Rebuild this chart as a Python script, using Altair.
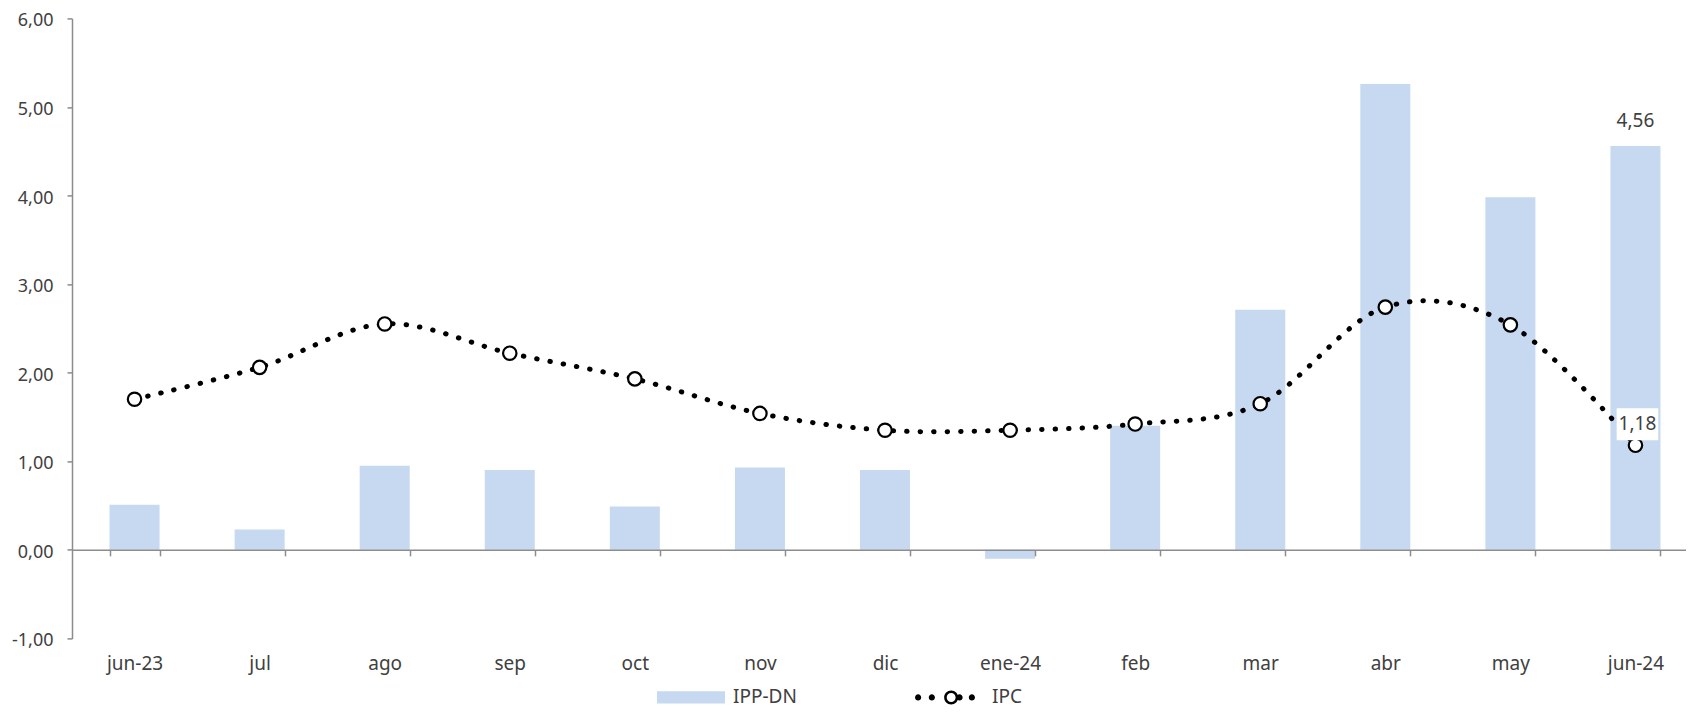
import altair as alt
import pandas as pd

months = ["jun-23", "jul", "ago", "sep", "oct", "nov", "dic", "ene-24",
          "feb", "mar", "abr", "may", "jun-24"]
ipp_dn = [0.51, 0.23, 0.95, 0.90, 0.49, 0.93, 0.90, -0.10, 1.40, 2.71, 5.26, 3.98, 4.56]
ipc = [1.70, 2.06, 2.55, 2.22, 1.93, 1.54, 1.35, 1.35, 1.42, 1.65, 2.74, 2.54, 1.18]
y_ticks = [-1, 0, 1, 2, 3, 4, 5, 6]
labelled_month = "jun-24"

df = pd.DataFrame({"mes": months, "ipp": ipp_dn, "ipc": ipc})
df["s_bar"] = "IPP-DN"
df["s_line"] = "IPC"

FONT = "Noto Sans"
FS = 19
TXT = "#404040"
AX = "#8c8c8c"
BAR = "#c6d9f1"
W, H = 1614, 620
X_RANGE = 1626


def circ(cx, r, sweep):
    return (f"M{cx + r},0A{r},{r} 0 1 {sweep} {cx - r},0"
            f"A{r},{r} 0 1 {sweep} {cx + r},0Z")


ipc_symbol = "".join([
    circ(-0.96, 0.11, 1), circ(-0.47, 0.11, 1), circ(0.52, 0.11, 1), circ(0.96, 0.11, 1),
    circ(0.22, 0.25, 1), circ(0.22, 0.16, 0),
])
bar_symbol = "M-1,-0.18H1V0.18H-1Z"
box_symbol = "M-1.3,-1H1.3V1H-1.3Z"

x_scale = alt.Scale(paddingInner=0.6, paddingOuter=0.3, range=[0, X_RANGE])
x_enc = alt.X(
    "mes:N", sort=months, title=None, scale=x_scale,
    axis=alt.Axis(
        offset=-H / 7, tickBand="extent", tickSize=6, tickColor=AX, tickWidth=1.5,
        domainColor=AX, domainWidth=1.5, labelPadding=99, labelAngle=0,
        labelFont=FONT, labelFontSize=FS, labelColor=TXT, zindex=1,
    ),
)
y_scale = alt.Scale(domain=[-1, 6], nice=False, zero=False)
y_axis = alt.Axis(
    values=y_ticks, tickSize=5, tickColor=AX, tickWidth=1.5, domainColor=AX, domainWidth=1.5,
    labelPadding=14, labelFont=FONT, labelFontSize=18, labelColor=TXT, grid=False,
    labelOffset=2.5,
    labelExpr="replace(replace(format(datum.value, '.2f'), '.', ','), '\u2212', '-')",
    zindex=1,
)

bars = alt.Chart(df).mark_bar().encode(
    x=x_enc,
    y=alt.Y("ipp:Q", scale=y_scale, axis=y_axis, title=None),
    color=alt.Color(
        "s_bar:N", title=None,
        scale=alt.Scale(domain=["IPP-DN"], range=[BAR]),
        legend=alt.Legend(
            orient="none", legendX=585, legendY=645, symbolType=bar_symbol,
            symbolSize=4624, labelFont=FONT, labelFontSize=FS, labelColor=TXT,
            labelOffset=8, padding=0, symbolStrokeWidth=0,
        ),
    ),
)

line = alt.Chart(df).mark_line(
    interpolate="cardinal", strokeWidth=5, strokeDash=[0.5, 13], strokeCap="round",
).encode(
    x=alt.X("mes:N", sort=months),
    y=alt.Y("ipc:Q", scale=y_scale),
    stroke=alt.Stroke(
        "s_line:N", title=None,
        scale=alt.Scale(domain=["IPC"], range=["black"]),
        legend=alt.Legend(
            orient="none", legendX=845, legendY=651, symbolType=ipc_symbol,
            symbolSize=3136, labelFont=FONT, labelFontSize=FS, labelColor=TXT,
            labelOffset=19, padding=0, symbolFillColor="black", symbolStrokeWidth=0,
        ),
    ),
)

points = alt.Chart(df).mark_point(
    shape="circle", filled=True, fill="white", stroke="black", strokeWidth=2.2,
    size=180, opacity=1,
).encode(x=alt.X("mes:N", sort=months), y=alt.Y("ipc:Q", scale=y_scale))

lab = alt.Chart(df).transform_filter(
    alt.datum.mes == labelled_month
).transform_calculate(
    ipc_txt="replace(format(datum.ipc, '.2f'), '.', ',')",
    ipp_txt="replace(format(datum.ipp, '.2f'), '.', ',')",
)

box = lab.mark_point(
    shape=box_symbol, filled=True, fill="white", size=1024, opacity=1,
    xOffset=2, yOffset=-21, strokeWidth=0,
).encode(x=alt.X("mes:N", sort=months), y=alt.Y("ipc:Q", scale=y_scale))

ipc_text = lab.mark_text(
    font=FONT, fontSize=FS, color=TXT, xOffset=2, yOffset=-21, baseline="middle",
).encode(x=alt.X("mes:N", sort=months), y=alt.Y("ipc:Q", scale=y_scale), text="ipc_txt:N")

ipp_text = lab.mark_text(
    font=FONT, fontSize=FS, color=TXT, yOffset=-25, baseline="middle",
).encode(x=alt.X("mes:N", sort=months), y=alt.Y("ipp:Q", scale=y_scale), text="ipp_txt:N")

chart = alt.layer(bars, line, points, box, ipc_text, ipp_text).resolve_scale(
    color="independent", stroke="independent"
).properties(
    width=W, height=H,
    autosize=alt.AutoSizeParams(type="none"),
    padding={"left": 64, "top": 10.4, "right": 0, "bottom": 71.6},
).configure(background="white").configure_view(stroke=None)

chart.save("out.html", embed_options={"renderer": "svg", "actions": False})
